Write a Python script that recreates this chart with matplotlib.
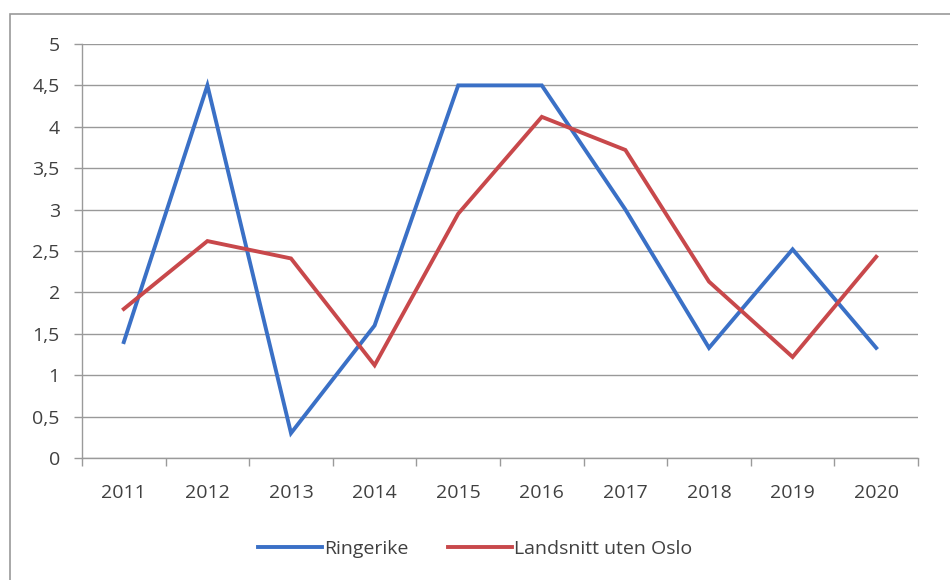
import matplotlib.pyplot as plt
from matplotlib.patches import Rectangle
from matplotlib.ticker import FuncFormatter, MultipleLocator, FixedLocator

plt.rcParams['font.family'] = ['Open Sans', 'DejaVu Sans']

years = ['2011', '2012', '2013', '2014', '2015', '2016', '2017', '2018', '2019', '2020']
ringerike = [1.4, 4.5, 0.3, 1.6, 4.5, 4.5, 3.0, 1.33, 2.52, 1.33]
landsnitt = [1.8, 2.62, 2.41, 1.12, 2.95, 4.12, 3.72, 2.13, 1.22, 2.43]
series_names = ['Ringerike', 'Landsnitt uten Oslo']
colors = ['#3A70C6', '#C8484B']

fig = plt.figure(figsize=(9.5, 5.8), dpi=100)
fig.patch.set_facecolor('white')
# outer chart frame
fig.patches.append(Rectangle((10/950, -0.1), 1.2, (580-14)/580 + 0.1, transform=fig.transFigure,
                             fill=False, edgecolor='#9a9a9a', linewidth=1.2))

ax = fig.add_axes([82/950, 1-458/580, (918-82)/950, (458-44)/580])
x = list(range(len(years)))
ax.plot(x, ringerike, color=colors[0], lw=2.8, label=series_names[0], solid_joinstyle='miter')
ax.plot(x, landsnitt, color=colors[1], lw=2.8, label=series_names[1], solid_joinstyle='miter')

fs = 14
ax.set_xlim(-0.5, len(years) - 0.5)
ax.set_ylim(0, 5)
ax.yaxis.set_major_locator(MultipleLocator(0.5))
ax.yaxis.set_major_formatter(FuncFormatter(lambda v, p: ('%g' % v).replace('.', ',')))
ax.set_xticks(x)
ax.set_xticklabels(years)
ax.xaxis.set_minor_locator(FixedLocator([i - 0.5 for i in range(len(years) + 1)]))
ax.tick_params(axis='x', which='major', length=0, pad=19, labelsize=fs, labelcolor='#404040')
ax.tick_params(axis='x', which='minor', length=6, width=1, color='#9a9a9a', direction='out')
ax.tick_params(axis='y', length=6, width=1, color='#9a9a9a', pad=10, labelsize=fs, labelcolor='#404040')
ax.grid(axis='y', color='#999999', lw=1)
ax.set_axisbelow(True)
for s in ['top', 'right']:
    ax.spines[s].set_visible(False)
for s in ['left', 'bottom']:
    ax.spines[s].set_color('#9a9a9a')
    ax.spines[s].set_linewidth(1)

leg = fig.legend(loc='center', bbox_to_anchor=(0.5, 1-549/580), ncol=2, frameon=False,
                 fontsize=fs, handlelength=3.3, handletextpad=0.1, columnspacing=2.0)
for t in leg.get_texts():
    t.set_color('#404040')

fig.savefig('out.png', dpi=100)
